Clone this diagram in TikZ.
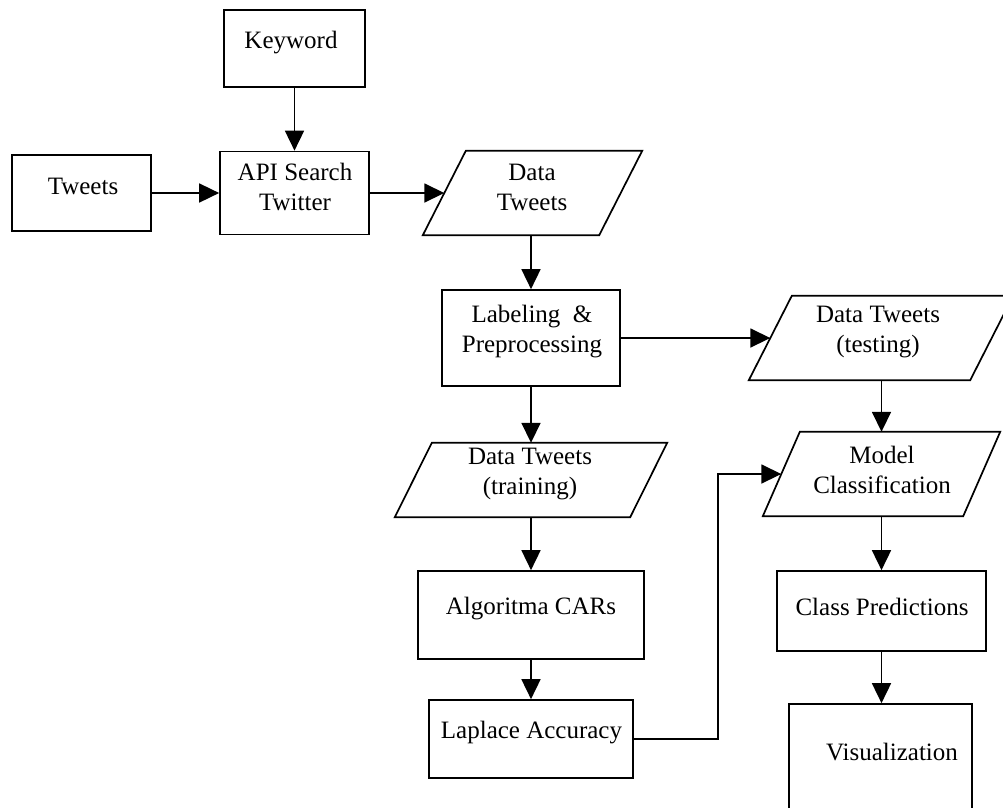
\documentclass[tikz,border=0pt]{standalone}
\usepackage{fontspec}
\setmainfont{Liberation Serif}
\usetikzlibrary{arrows.meta,calc}
\begin{document}
\begin{tikzpicture}[x=1pt,y=-1pt,
  box/.style={draw, line width=1.7pt, inner sep=0pt, rectangle},
  ghost/.style={inner sep=0pt, rectangle},
  txt/.style={font=\fontsize{25}{30}\selectfont, align=center, inner sep=0pt},
  arr/.style={line width=1.7pt, -{Triangle[length=20pt,width=19pt]}},
  para/.style={line width=1.7pt, line join=miter}
]
\clip (0,0) rectangle (1003,807);
\fill[white] (0,0) rectangle (1003,807);

% rectangles
\node[box, minimum width=141pt, minimum height=77pt] (key) at (294.5,48.5) {};
\node[box, minimum width=139pt, minimum height=76pt] (tw) at (81.5,193) {};
\node[box, minimum width=149pt, minimum height=83pt] (api) at (294.5,193) {};
\node[box, minimum width=178pt, minimum height=96pt] (lab) at (531,338) {};
\node[box, minimum width=226pt, minimum height=88pt] (alg) at (531,615) {};
\node[box, minimum width=204pt, minimum height=78pt] (lap) at (531,739) {};
\node[box, minimum width=209pt, minimum height=80pt] (cp) at (881.5,611) {};
\node[box, minimum width=183pt, minimum height=126pt] (vis) at (880.5,767) {};

% parallelograms (ghost extents + drawn outline)
\node[ghost, minimum width=219pt, minimum height=84pt] (dt) at (532.5,193) {};
\draw[para] ([xshift=43pt]dt.north west) -- (dt.north east) -- ([xshift=-43pt]dt.south east) -- (dt.south west) -- cycle;
\coordinate (dt-in) at ([xshift=21.5pt]dt.west);

\node[ghost, minimum width=264pt, minimum height=84pt] (test) at (881,338) {};
\draw[para] ([xshift=43pt]test.north west) -- (test.north east) -- ([xshift=-43pt]test.south east) -- (test.south west) -- cycle;
\coordinate (test-in) at ([xshift=21.5pt]test.west);

\node[ghost, minimum width=272pt, minimum height=74pt] (train) at (531,480) {};
\draw[para] ([xshift=37pt]train.north west) -- (train.north east) -- ([xshift=-37pt]train.south east) -- (train.south west) -- cycle;

\node[ghost, minimum width=237pt, minimum height=84pt] (model) at (881.5,474) {};
\draw[para] ([xshift=37pt]model.north west) -- (model.north east) -- ([xshift=-37pt]model.south east) -- (model.south west) -- cycle;
\coordinate (model-in) at ([xshift=18.5pt]model.west);

% texts
\node[txt] (key-t) at ([shift={(-3.5,-5.5)}]key.center) {Keyword};
\node[txt] (tw-t) at ([shift={(1.5,-7)}]tw.center) {Tweets};
\node[txt] (api-t) at ([shift={(0.5,-6)}]api.center) {API Search\\Twitter};
\node[txt] (dt-t) at ([shift={(-0.5,-6)}]dt.center) {Data\\Tweets};
\node[txt] (lab-t) at ([shift={(1,-6)}]lab.center) {Labeling\ \ \&\\Preprocessing};
\node[txt] (test-t) at ([shift={(-3,-6)}]test.center) {Data Tweets\\(testing)};
\node[txt] (train-t) at ([shift={(-1,-5.5)}]train.center) {Data Tweets\\(training)};
\node[txt] (model-t) at ([shift={(0.5,-4)}]model.center) {Model\\Classification};
\node[txt] (alg-t) at ([shift={(0,-6)}]alg.center) {Algoritma CARs};
\node[txt] (lap-t) at ([shift={(0.5,-6)}]lap.center) {Laplace Accuracy};
\node[txt] (cp-t) at ([shift={(0.5,-4)}]cp.center) {Class Predictions};
\node[txt] (vis-t) at ([shift={(11.5,-15)}]vis.center) {Visualization};

% connectors
\draw[arr] (key.south) -- (api.north);
\draw[arr] (tw.east) -- (api.west);
\draw[arr] (api.east) -- (dt-in);
\draw[arr] (dt.south -| lab.north) -- (lab.north);
\draw[arr] (lab.east) -- (test-in);
\draw[arr] (lab.south) -- (lab.south |- train.north);
\draw[arr] (alg.north |- train.south) -- (alg.north);
\draw[arr] (alg.south) -- (lap.north);
\draw[arr] (test.south -| model.north) -- (model.north);
\draw[arr] (model.south) -- (cp.north);
\draw[arr] (cp.south) -- (vis.north -| cp.south);
\draw[arr] (lap.east) -- ++(84,0) |- (model-in);
\end{tikzpicture}
\end{document}
